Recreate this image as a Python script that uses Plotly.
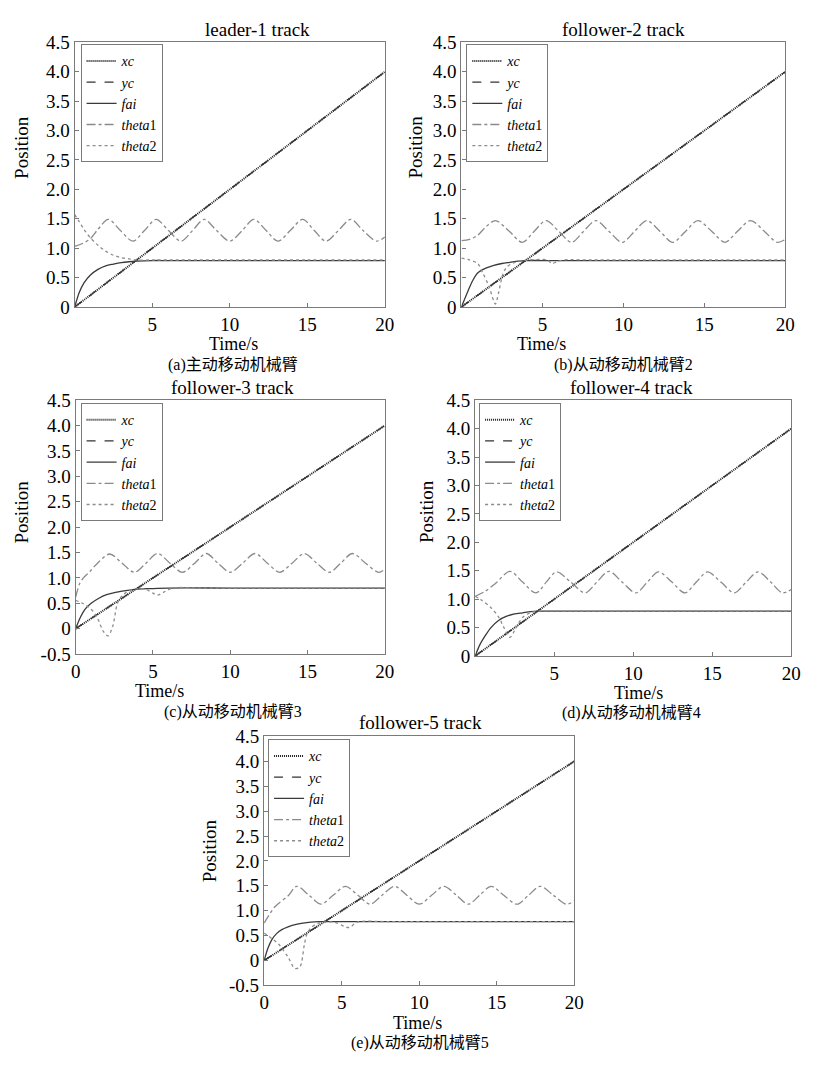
import plotly.graph_objects as go

# ---------------- data ----------------
T_LINE = [0, 20]
XC = [0, 4.0]
YC = [0, 4.0]

# panel (a) leader-1
A_FAI_T = [0, 0.3, 0.6, 1.0, 1.5, 2.0, 2.5, 3.0, 3.5, 4.0, 5.0, 6.0, 10, 15, 20]
A_FAI = [0, 0.25, 0.41, 0.54, 0.64, 0.70, 0.73, 0.755, 0.77, 0.78, 0.79, 0.79, 0.79, 0.79, 0.79]
A_TH1_T = [0, 0.5, 1.0, 1.5, 2.17, 2.95, 3.75, 4.5, 5.25, 6.05, 6.85, 7.6, 8.35, 9.15, 10.0,
           10.8, 11.55, 12.35, 13.1, 13.9, 14.7, 15.45, 16.2, 17.0, 17.8, 18.6, 19.45, 20]
A_TH1 = [1.03, 1.08, 1.16, 1.32, 1.49, 1.30, 1.12, 1.30, 1.49, 1.30, 1.12, 1.30, 1.49, 1.30, 1.12,
         1.30, 1.49, 1.30, 1.12, 1.30, 1.49, 1.30, 1.12, 1.30, 1.49, 1.30, 1.12, 1.19]
A_TH2_T = [0, 0.3, 0.6, 1.0, 1.5, 2.0, 2.5, 3.0, 3.5, 4.0, 5.0, 6.0, 10, 15, 20]
A_TH2 = [1.57, 1.45, 1.32, 1.18, 1.05, 0.95, 0.88, 0.84, 0.82, 0.80, 0.80, 0.80, 0.80, 0.80, 0.80]

# panel (b) follower-2
B_FAI_T = [0, 0.4, 0.7, 1.0, 1.5, 2.0, 2.5, 3.0, 3.5, 4.0, 5.0, 10, 15, 20]
B_FAI = [0, 0.27, 0.45, 0.58, 0.66, 0.71, 0.74, 0.76, 0.78, 0.79, 0.79, 0.79, 0.79, 0.79]
B_TH1_T = [0, 0.5, 1.0, 1.5, 2.1, 2.95, 3.76, 4.5, 5.23, 6.0, 6.8, 7.55, 8.3, 9.1, 9.92,
           10.7, 11.44, 12.25, 13.05, 13.85, 14.6, 15.45, 16.28, 17.05, 17.86, 18.7, 19.5, 20]
B_TH1 = [1.13, 1.15, 1.22, 1.36, 1.47, 1.29, 1.10, 1.29, 1.47, 1.29, 1.10, 1.29, 1.47, 1.29, 1.10,
         1.29, 1.47, 1.29, 1.10, 1.29, 1.47, 1.29, 1.10, 1.29, 1.47, 1.29, 1.10, 1.15]
B_TH2_T = [0, 0.5, 1.0, 1.3, 1.7, 2.0, 2.1, 2.3, 2.55, 2.8, 3.2, 3.6, 4.2, 5.3, 5.6, 5.9, 6.3, 8, 12, 16, 20]
B_TH2 = [0.83, 0.80, 0.74, 0.59, 0.35, 0.10, 0.05, 0.25, 0.55, 0.68, 0.75, 0.78, 0.80, 0.80, 0.74, 0.77,
         0.80, 0.80, 0.80, 0.80, 0.80]

# panel (c) follower-3
C_FAI_T = [0, 0.3, 0.6, 1.0, 1.5, 2.0, 2.5, 3.0, 3.5, 4.0, 5.0, 6.0, 10, 15, 20]
C_FAI = [0, 0.22, 0.38, 0.50, 0.60, 0.67, 0.71, 0.74, 0.76, 0.78, 0.79, 0.80, 0.80, 0.80, 0.80]
C_TH1_T = [0, 0.25, 0.5, 0.9, 1.35, 2.2, 3.0, 3.8, 4.55, 5.3, 6.1, 6.9, 7.7, 8.45, 9.2, 10.0,
           10.8, 11.6, 12.4, 13.2, 14.0, 14.8, 15.6, 16.4, 17.15, 17.9, 18.75, 19.6, 20]
C_TH1 = [0.62, 0.88, 1.00, 1.12, 1.27, 1.47, 1.29, 1.11, 1.29, 1.48, 1.29, 1.11, 1.29, 1.48, 1.29, 1.11,
         1.29, 1.48, 1.29, 1.11, 1.29, 1.48, 1.29, 1.11, 1.29, 1.48, 1.29, 1.11, 1.17]
C_TH2_T = [0, 0.5, 0.94, 1.36, 1.8, 2.1, 2.4, 2.7, 2.95, 3.3, 3.8, 4.5, 5.0, 5.3, 5.7, 6.3, 8, 12, 16, 20]
C_TH2 = [0.56, 0.49, 0.40, 0.24, -0.06, -0.14, 0.05, 0.50, 0.63, 0.72, 0.78, 0.78, 0.70, 0.66, 0.72, 0.80,
         0.80, 0.80, 0.80, 0.80]

# panel (d) follower-4
D_FAI_T = [0, 0.3, 0.6, 1.0, 1.5, 2.0, 2.5, 3.0, 3.5, 4.0, 5.0, 10, 15, 20]
D_FAI = [0, 0.20, 0.34, 0.50, 0.63, 0.70, 0.74, 0.76, 0.78, 0.79, 0.79, 0.79, 0.79, 0.79]
D_TH1_T = [0, 0.64, 1.3, 2.2, 3.0, 3.85, 4.5, 5.15, 6.05, 6.96, 7.7, 8.47, 9.3, 10.17,
           10.9, 11.6, 12.45, 13.27, 14.0, 14.7, 15.55, 16.4, 17.15, 17.9, 18.7, 19.45, 20]
D_TH1 = [1.05, 1.14, 1.28, 1.49, 1.30, 1.11, 1.30, 1.48, 1.30, 1.11, 1.30, 1.49, 1.30, 1.11,
         1.30, 1.48, 1.30, 1.11, 1.30, 1.48, 1.30, 1.11, 1.30, 1.48, 1.30, 1.11, 1.17]
D_TH2_T = [0, 0.37, 1.0, 1.5, 1.8, 2.2, 2.5, 3.0, 3.5, 4.0, 6, 10, 15, 20]
D_TH2 = [1.05, 0.99, 0.85, 0.68, 0.51, 0.33, 0.45, 0.68, 0.76, 0.79, 0.79, 0.79, 0.79, 0.79]

# panel (e) follower-5
E_FAI_T = [0, 0.25, 0.5, 0.8, 1.14, 1.5, 2.0, 2.5, 3.0, 3.5, 4.5, 8, 12, 16, 20]
E_FAI = [0, 0.25, 0.42, 0.54, 0.62, 0.67, 0.72, 0.75, 0.77, 0.78, 0.78, 0.78, 0.78, 0.78, 0.78]
E_TH1_T = [0, 0.7, 1.55, 2.1, 2.9, 3.67, 4.45, 5.25, 6.05, 6.84, 7.6, 8.42, 9.2, 10.0,
           10.8, 11.6, 12.4, 13.16, 13.9, 14.64, 15.45, 16.3, 17.05, 17.8, 18.65, 19.5, 20]
E_TH1 = [0.75, 1.08, 1.30, 1.49, 1.31, 1.13, 1.31, 1.49, 1.31, 1.13, 1.31, 1.49, 1.31, 1.13,
         1.31, 1.49, 1.31, 1.13, 1.31, 1.49, 1.31, 1.13, 1.31, 1.49, 1.31, 1.13, 1.20]
E_TH2_T = [0, 0.5, 0.93, 1.56, 1.98, 2.3, 2.6, 2.75, 3.0, 3.5, 4.5, 5.2, 5.5, 6.0, 8, 12, 16, 20]
E_TH2 = [0.55, 0.44, 0.33, 0.06, -0.16, -0.13, 0.33, 0.52, 0.65, 0.75, 0.77, 0.68, 0.66, 0.77,
         0.78, 0.78, 0.78, 0.78]

TITLES = ["leader-1 track", "follower-2 track", "follower-3 track", "follower-4 track", "follower-5 track"]
CAPTIONS = ["(a)主动移动机械臂", "(b)从动移动机械臂2", "(c)从动移动机械臂3", "(d)从动移动机械臂4", "(e)从动移动机械臂5"]
SERIES_NAMES = ["<i>xc</i>", "<i>yc</i>", "<i>fai</i>", "<i>theta</i>1", "<i>theta</i>2"]
Y_TICKS_POS = [0, 0.5, 1.0, 1.5, 2.0, 2.5, 3.0, 3.5, 4.0, 4.5]
Y_TICKS_NEG = [-0.5] + Y_TICKS_POS
X_TICKS_A = [5, 10, 15, 20]
X_TICKS_C = [0, 5, 10, 15, 20]

# ---------------- layout geometry (pixels) ----------------
W, H = 813, 1066
SERIF = "Liberation Serif, Times New Roman, serif"
CJK = "Liberation Serif, Noto Sans CJK SC, serif"

panels = [
    dict(box=(71, 387, 33, 303), yr=[0, 4.5], yt=Y_TICKS_POS, xt=X_TICKS_A,
         fai=(A_FAI_T, A_FAI), th1=(A_TH1_T, A_TH1), th2=(A_TH2_T, A_TH2),
         title=(257, 20), xlab=(233, 341), ylab=(17, 140), cap=(232, 362), leg=(77, 35)),
    dict(box=(465, 795, 33, 303), yr=[0, 4.5], yt=Y_TICKS_POS, xt=X_TICKS_A,
         fai=(B_FAI_T, B_FAI), th1=(B_TH1_T, B_TH1), th2=(B_TH2_T, B_TH2),
         title=(630, 20), xlab=(547, 341), ylab=(418, 140), cap=(630, 362), leg=(470, 35)),
    dict(box=(72, 387, 398, 657), yr=[-0.5, 4.5], yt=Y_TICKS_NEG, xt=X_TICKS_C,
         fai=(C_FAI_T, C_FAI), th1=(C_TH1_T, C_TH1), th2=(C_TH2_T, C_TH2),
         title=(232, 385), xlab=(157, 695), ylab=(17, 512), cap=(232, 716), leg=(77, 401)),
    dict(box=(479, 801, 398, 659), yr=[0, 4.5], yt=Y_TICKS_POS, xt=X_TICKS_A,
         fai=(D_FAI_T, D_FAI), th1=(D_TH1_T, D_TH1), th2=(D_TH2_T, D_TH2),
         title=(638, 385), xlab=(645, 697), ylab=(430, 512), cap=(638, 717), leg=(483, 401)),
    dict(box=(264, 580, 741, 995), yr=[-0.5, 4.5], yt=Y_TICKS_NEG, xt=X_TICKS_C,
         fai=(E_FAI_T, E_FAI), th1=(E_TH1_T, E_TH1), th2=(E_TH2_T, E_TH2),
         title=(423, 727), xlab=(420, 1033), ylab=(208, 858), cap=(423, 1054), leg=(268, 744)),
]


def px(x):
    return x / W


def py(y):
    return 1 - y / H


def fmt(v):
    return "0" if v == 0 else f"{v:.1f}"


fig = go.Figure()
layout = dict(width=W, height=H, margin=dict(l=0, r=0, t=0, b=0),
              paper_bgcolor="white", plot_bgcolor="white", showlegend=True,
              font=dict(family=SERIF, color="black"))
annotations = []

styles = [
    dict(color="#1e1e1e", width=2.0, dash="1px,1px"),
    dict(color="#333333", width=1.3, dash="dash"),
    dict(color="#3a3a3a", width=1.3, dash="solid"),
    dict(color="#8a8a8a", width=1.3, dash="dashdot"),
    dict(color="#8c8c8c", width=1.3, dash="dot"),
]

for i, p in enumerate(panels):
    n = "" if i == 0 else str(i + 1)
    xa, ya, lg = "x" + n, "y" + n, "legend" + n
    x0, x1, y0, y1 = p["box"]
    series = [(T_LINE, XC), (T_LINE, YC), p["fai"], p["th1"], p["th2"]]
    for k, (t, v) in enumerate(series):
        fig.add_trace(go.Scatter(
            x=t, y=v, mode="lines", name=SERIES_NAMES[k],
            line=dict(shape="spline", smoothing=0.9, **styles[k]),
            xaxis=xa, yaxis=ya, legend=lg, hoverinfo="skip"))
    axis_common = dict(showline=True, linecolor="#7a7a7a", linewidth=1.4, mirror=True,
                       showgrid=False, zeroline=False, ticks="inside", ticklen=4,
                       tickcolor="#7a7a7a", tickfont=dict(family=SERIF, size=19, color="black"))
    layout["xaxis" + n] = dict(domain=[px(x0), px(x1)], anchor=ya, range=[0, 20],
                               tickvals=p["xt"], ticktext=[str(v) for v in p["xt"]], **axis_common)
    layout["yaxis" + n] = dict(domain=[py(y1), py(y0)], anchor=xa, range=p["yr"],
                               tickvals=p["yt"], ticktext=[fmt(v) for v in p["yt"]], **axis_common)
    layout[lg] = dict(x=px(p["leg"][0]), y=py(p["leg"][1]), xanchor="left", yanchor="top",
                      bgcolor="white", bordercolor="#7a7a7a", borderwidth=1,
                      font=dict(family=SERIF, size=14, color="black"),
                      itemwidth=30, tracegroupgap=0)
    annotations += [
        dict(x=px(p["title"][0]), y=py(p["title"][1]), text=TITLES[i],
             font=dict(family=SERIF, size=19)),
        dict(x=px(p["xlab"][0]), y=py(p["xlab"][1]), text="Time/s",
             font=dict(family=SERIF, size=18)),
        dict(x=px(p["ylab"][0]), y=py(p["ylab"][1]), text="Position", textangle=-90,
             font=dict(family=SERIF, size=19)),
        dict(x=px(p["cap"][0]), y=py(p["cap"][1]), text=CAPTIONS[i],
             font=dict(family=CJK, size=16)),
    ]

for a in annotations:
    a.update(xref="paper", yref="paper", showarrow=False, xanchor="center", yanchor="middle")
layout["annotations"] = annotations
fig.update_layout(**layout)
fig.write_html("out.html", config={"displayModeBar": False},
               post_script="document.body.style.margin='0px';")
